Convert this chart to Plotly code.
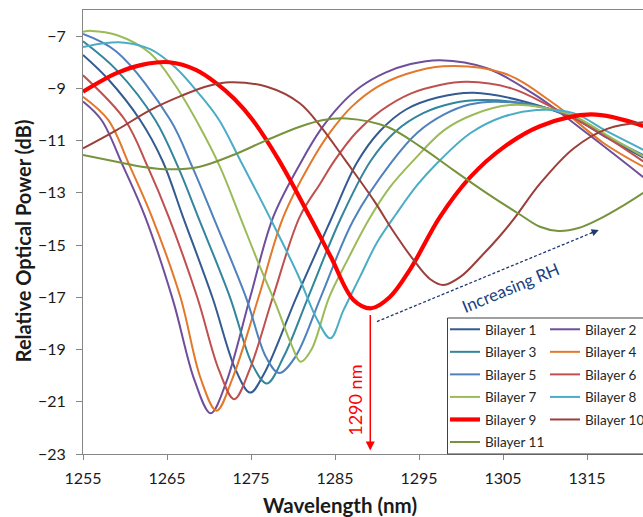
import plotly.graph_objects as go

# ---------------- data ----------------
wl_1 = [1255, 1258, 1261.8, 1264.5, 1266.9, 1270.4, 1273.2, 1274.9, 1276.6, 1280.4, 1284.5, 1287.6, 1290.3, 1293.5, 1297.2, 1301.5, 1307.5, 1313.4, 1317.4, 1321.7]
p_1 = [-7.72, -8.65, -10.21, -11.8, -13.92, -17.0, -19.8, -20.65, -19.9, -17.0, -14.04, -11.85, -10.65, -9.8, -9.35, -9.17, -9.5, -10.15, -10.9, -11.65]

wl_2 = [1255, 1257.2, 1259.8, 1262.4, 1265.7, 1268.3, 1270.2, 1272.0, 1274.9, 1277.65, 1281.1, 1283.25, 1285.6, 1288.0, 1291.0, 1294.0, 1297.5, 1303.1, 1309.05, 1315.0, 1321.7]
p_2 = [-9.5, -10.21, -12.0, -13.92, -17.1, -20.2, -21.44, -20.3, -17.0, -13.92, -11.74, -10.6, -9.65, -8.95, -8.4, -8.07, -7.92, -8.23, -9.3, -10.72, -12.4]

wl_3 = [1255, 1259, 1263.6, 1266.3, 1268.7, 1272.5, 1275.2, 1276.9, 1278.9, 1281.8, 1285.6, 1289.2, 1292.2, 1295.5, 1299.0, 1302.7, 1308, 1313.4, 1317.4, 1321.7]
p_3 = [-7.2, -8.3, -10.21, -12.0, -13.92, -17.0, -19.6, -20.3, -19.27, -17.0, -14.04, -11.8, -10.65, -9.95, -9.57, -9.45, -9.6, -10.1, -10.85, -11.6]

wl_4 = [1255, 1258.0, 1260.6, 1263.2, 1266.6, 1269.0, 1270.9, 1272.8, 1275.9, 1278.85, 1282.3, 1284.5, 1287.0, 1290.0, 1293.5, 1297.9, 1305.1, 1311.0, 1317.0, 1321.7]
p_4 = [-9.32, -10.21, -12.0, -13.92, -17.0, -20.1, -21.34, -20.1, -17.0, -13.92, -11.74, -10.65, -9.7, -8.95, -8.45, -8.15, -8.42, -9.57, -11.1, -12.0]

wl_5 = [1255, 1259, 1265.4, 1268, 1270.5, 1274.4, 1276.8, 1278.35, 1280.3, 1283.3, 1287.2, 1291.8, 1294.8, 1298, 1301, 1304, 1308.5, 1313.4, 1317.4, 1321.7]
p_5 = [-6.92, -7.6, -10.21, -12.0, -13.92, -17.0, -19.3, -19.9, -19.27, -17.0, -14.04, -11.8, -10.7, -10.0, -9.62, -9.51, -9.65, -10.1, -10.85, -11.55]

wl_6 = [1255, 1260.0, 1262.7, 1265.2, 1268.6, 1271.2, 1273.0, 1274.8, 1277.6, 1280.8, 1283.25, 1285.0, 1287.5, 1290.5, 1294.0, 1297.5, 1300.7, 1306, 1311, 1316, 1321.7]
p_6 = [-8.5, -10.21, -12.0, -13.92, -17.0, -19.8, -20.9, -19.8, -17.0, -13.92, -12.64, -11.74, -10.7, -9.85, -9.2, -8.87, -8.75, -9.0, -9.75, -10.6, -11.8]

wl_7 = [1255, 1256, 1259.0, 1263.0, 1266.1, 1268.9, 1271.3, 1273.7, 1275.9, 1278.0, 1279.8, 1280.9, 1282.2, 1284.3, 1286.6, 1289.0, 1291.5, 1294.4, 1298, 1301.5, 1305.9, 1310, 1313.4, 1317.4, 1321.7]
p_7 = [-6.83, -6.8, -6.96, -7.66, -8.94, -10.47, -12.0, -13.92, -15.7, -17.3, -18.8, -19.47, -19.0, -17.0, -15.5, -14.04, -12.8, -11.74, -10.6, -10.0, -9.64, -9.75, -10.05, -10.8, -11.6]

wl_8 = [1255, 1257.5, 1260, 1263, 1266, 1268.8, 1271.2, 1273.7, 1277.2, 1280.5, 1282.9, 1284.45, 1286.0, 1288.0, 1290.0, 1292.3, 1294.8, 1297.2, 1301.1, 1305.1, 1309.0, 1313.4, 1317.4, 1321.7]
p_8 = [-7.42, -7.27, -7.25, -7.5, -8.2, -9.2, -10.21, -11.74, -13.92, -16.08, -17.87, -18.57, -17.5, -16.2, -14.9, -13.8, -12.7, -11.85, -10.72, -10.08, -9.83, -9.95, -10.65, -11.35]

wl_9 = [1255, 1259.0, 1262, 1265.3, 1268.5, 1270.9, 1273, 1275.2, 1278.3, 1282.0, 1284.5, 1287.2, 1289.3, 1291.5, 1294.0, 1297.5, 1301.1, 1305.1, 1309.4, 1315.5, 1321.7]
p_9 = [-9.13, -8.42, -8.1, -8.0, -8.3, -8.81, -9.4, -10.21, -11.74, -13.92, -15.45, -17.1, -17.42, -17.0, -15.9, -13.92, -12.4, -11.25, -10.45, -10.0, -10.44]

wl_10 = [1255, 1259.0, 1263.0, 1266.9, 1270, 1272.5, 1276.9, 1280.8, 1283.4, 1286.2, 1289.6, 1292, 1294.35, 1296.3, 1297.9, 1300.0, 1302.5, 1304.5, 1306.3, 1309.4, 1313.4, 1317.4, 1321.7]
p_10 = [-11.3, -10.6, -9.83, -9.26, -8.9, -8.77, -8.94, -9.57, -10.5, -11.74, -13.28, -14.5, -15.57, -16.3, -16.53, -16.2, -15.4, -14.7, -14.0, -12.65, -11.3, -10.55, -10.3]

wl_11 = [1255, 1259.0, 1262, 1265.3, 1268.9, 1272.9, 1276.9, 1280.8, 1283.6, 1286.4, 1291.2, 1295.2, 1299.1, 1303.1, 1307.1, 1309.4, 1311.6, 1314, 1316.5, 1319, 1321.7]
p_11 = [-11.55, -11.81, -12.0, -12.1, -12.0, -11.55, -10.98, -10.47, -10.21, -10.15, -10.47, -11.24, -12.13, -13.02, -13.85, -14.3, -14.46, -14.35, -14.0, -13.55, -13.0]

names = ["Bilayer 1", "Bilayer 2", "Bilayer 3", "Bilayer 4", "Bilayer 5", "Bilayer 6",
         "Bilayer 7", "Bilayer 8", "Bilayer 9", "Bilayer 10", "Bilayer 11"]
colors = ["#335A91", "#6F4E9C", "#31859C", "#E3782A", "#4F81BD", "#C0504D",
          "#9BBB59", "#4BACC6", "#FF0000", "#9C3F3B", "#77933C"]
widths = [2, 2, 2, 2, 2, 2, 2, 2, 4.2, 2, 2]

x_ticks = [1255, 1265, 1275, 1285, 1295, 1305, 1315]
y_ticks = [-7, -9, -11, -13, -15, -17, -19, -21, -23]

series = [(wl_1, p_1), (wl_2, p_2), (wl_3, p_3), (wl_4, p_4), (wl_5, p_5), (wl_6, p_6),
          (wl_7, p_7), (wl_8, p_8), (wl_9, p_9), (wl_10, p_10), (wl_11, p_11)]

# annotation positions (data units)
marker_wl = 1289.2
rh_tail = (1289.99, -17.93)
rh_head = (1316.4, -14.42)

FONT = "Lato"

fig = go.Figure()
for i, (wl, p) in enumerate(series):
    fig.add_trace(go.Scatter(
        x=wl, y=p, mode="lines", name=names[i],
        line=dict(color=colors[i], width=widths[i], shape="spline", smoothing=1.0),
        legend="legend" if i % 2 == 0 else "legend2",
        legendgroup=names[i],
        hoverinfo="skip",
    ))

# the chart continues past the right edge of the window (as in the cropped reference)
W, H = 660, 517
ml, mr, mt, mb = 83, 0, 10, 517 - 454
pw, ph = W - ml - mr, H - mt - mb


def px_x(px):
    return (px - ml) / pw


def px_y(py):
    return (H - mb - py) / ph


axis_common = dict(showline=True, linecolor="#868686", linewidth=1, ticks="outside",
                   tickcolor="#868686", showgrid=False, zeroline=False,
                   tickfont=dict(family=FONT, size=16, color="#1a1a1a"))

legend_common = dict(xanchor="left", yanchor="top", bgcolor="rgba(0,0,0,0)", borderwidth=0,
                     traceorder="grouped", tracegroupgap=2.0,
                     font=dict(family=FONT, size=13.5, color="#262626"))

fig.update_layout(
    width=W, height=H,
    margin=dict(l=ml, r=mr, t=mt, b=mb, pad=0),
    paper_bgcolor="white", plot_bgcolor="white",
    xaxis=dict(range=[1255, 1255 + pw / 8.4], tickvals=x_ticks, ticklen=5,
               ticklabelstandoff=5, mirror=True, **axis_common),
    yaxis=dict(range=[-23, -6], tickvals=y_ticks, ticklen=6, ticklabelstandoff=7,
               **axis_common),
    showlegend=True,
    legend=dict(x=px_x(445), y=px_y(314), **legend_common),
    legend2=dict(x=px_x(545), y=px_y(314), **legend_common),
)

# legend frame
fig.add_shape(type="rect", xref="paper", yref="paper",
              x0=px_x(447.5), x1=px_x(700), y0=0, y1=px_y(318),
              line=dict(color="#404040", width=1), fillcolor="white", layer="above")

# dashed "Increasing RH" arrow
fig.add_shape(type="line", xref="x", yref="y",
              x0=rh_tail[0], y0=rh_tail[1], x1=rh_head[0], y1=rh_head[1],
              line=dict(color="#1F3A70", width=1.3, dash="3px,2px"))
dx, dy = rh_head[0] - rh_tail[0], rh_head[1] - rh_tail[1]
fig.add_annotation(x=rh_head[0], y=rh_head[1], ax=rh_head[0] - 0.04 * dx, ay=rh_head[1] - 0.04 * dy,
                   xref="x", yref="y", axref="x", ayref="y", text="", showarrow=True,
                   arrowhead=2, arrowsize=1.1, arrowwidth=1.3, arrowcolor="#1F3A70", standoff=0)
fig.add_annotation(x=1305.9, y=-16.63, xref="x", yref="y", text="Increasing RH",
                   showarrow=False, textangle=-22.4,
                   font=dict(family=FONT, size=17, color="#203F7D"))

# red 1290 nm marker
fig.add_annotation(x=marker_wl, y=-22.87, ax=marker_wl, ay=-17.62,
                   xref="x", yref="y", axref="x", ayref="y", text="", showarrow=True,
                   arrowhead=2, arrowsize=1.2, arrowwidth=1.5, arrowcolor="#FF0000", standoff=0)
fig.add_annotation(x=1287.36, y=-20.93, xref="x", yref="y", text="1290 nm",
                   showarrow=False, textangle=-90,
                   font=dict(family=FONT, size=18, color="#FF0000"))

# axis titles
fig.add_annotation(x=px_x(340), y=px_y(505), xref="paper", yref="paper",
                   text="<b>Wavelength (nm)</b>", showarrow=False,
                   xanchor="center", yanchor="middle",
                   font=dict(family=FONT, size=20.5, color="#1a1a1a"))
fig.add_annotation(x=px_x(22.5), y=px_y(240.8), xref="paper", yref="paper",
                   text="<b>Relative Optical Power (dB)</b>", showarrow=False,
                   textangle=-90, xanchor="center", yanchor="middle",
                   font=dict(family=FONT, size=20, color="#1a1a1a"))

# remove the default page margin, scrollbars and the mode bar
fig.write_html("out.html",
               config={"displayModeBar": False},
               post_script="document.body.style.margin='0';"
                           "document.body.style.overflow='hidden';"
                           "document.documentElement.style.overflow='hidden';")
